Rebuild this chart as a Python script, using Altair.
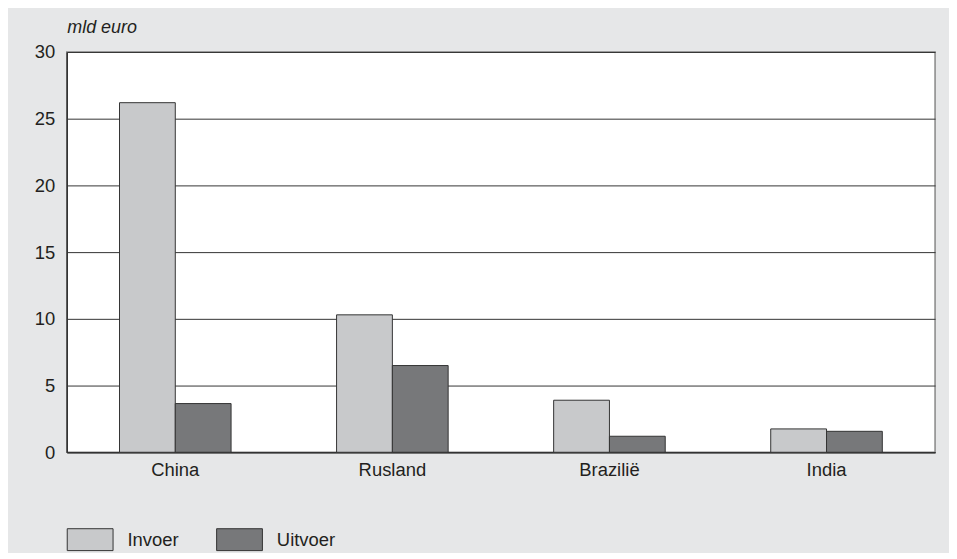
import altair as alt
import pandas as pd

countries = ["China", "Rusland", "Brazilië", "India"]
invoer = [26.2, 10.3, 3.9, 1.75]
uitvoer = [3.65, 6.5, 1.2, 1.57]
series = ["Invoer", "Uitvoer"]
colors = ["#c8c9cb", "#77787a"]
y_ticks = [0, 5, 10, 15, 20, 25, 30]

rows = []
for c, a, b in zip(countries, invoer, uitvoer):
    rows.append({"land": c, "type": "Invoer", "waarde": a})
    rows.append({"land": c, "type": "Uitvoer", "waarde": b})
df = pd.DataFrame(rows)

FONT = "Liberation Sans"
TXT = "#231f20"
FS = 18.5

chart = alt.Chart(df).mark_bar(stroke="#333333", strokeWidth=1).encode(
    x=alt.X("land:N", sort=countries,
            scale=alt.Scale(paddingInner=0.486, paddingOuter=0.243),
            axis=alt.Axis(title=None, labelAngle=0, ticks=False, labelPadding=8,
                          labelFontSize=FS, labelFont=FONT, labelColor=TXT,
                          domain=True, domainColor="#333333", domainWidth=1.5)),
    xOffset=alt.XOffset("type:N", sort=series, scale=alt.Scale(paddingInner=0, paddingOuter=0)),
    y=alt.Y("waarde:Q", scale=alt.Scale(domain=[0, 30], nice=False),
            axis=alt.Axis(values=y_ticks, title="mld euro", titleAngle=0,
                          titleX=0, titleY=-25, titleAlign="left", titleBaseline="middle",
                          titleFontStyle="italic", titleFontWeight="normal",
                          titleFontSize=18, titleFont=FONT, titleColor=TXT,
                          ticks=False, labelPadding=12, labelFontSize=FS, labelFont=FONT,
                          labelColor=TXT, grid=True, gridColor="#333333", gridWidth=1,
                          domain=True, domainColor="#333333", domainWidth=1.5)),
    color=alt.Color("type:N", sort=series,
                    scale=alt.Scale(domain=series, range=colors),
                    legend=alt.Legend(title=None, orient="none", legendX=0, legendY=466,
                                      direction="horizontal", columns=2,
                                      symbolType="M-1,-0.478H1V0.478H-1Z", symbolSize=2116,
                                      symbolStrokeColor="#333333", symbolStrokeWidth=1,
                                      symbolOpacity=1,
                                      labelFontSize=FS, labelFont=FONT, labelColor=TXT,
                                      labelOffset=14, columnPadding=35)),
).properties(
    width=872, height=402,
    autosize=alt.AutoSizeParams(type="none"),
    padding={"left": 59, "top": 43, "right": 14, "bottom": 100},
    background="#e6e7e8",
).configure_view(
    stroke="#888888", strokeWidth=1.5, fill="white"
)

chart.save("out.html", embed_options={"renderer": "svg", "actions": False})
